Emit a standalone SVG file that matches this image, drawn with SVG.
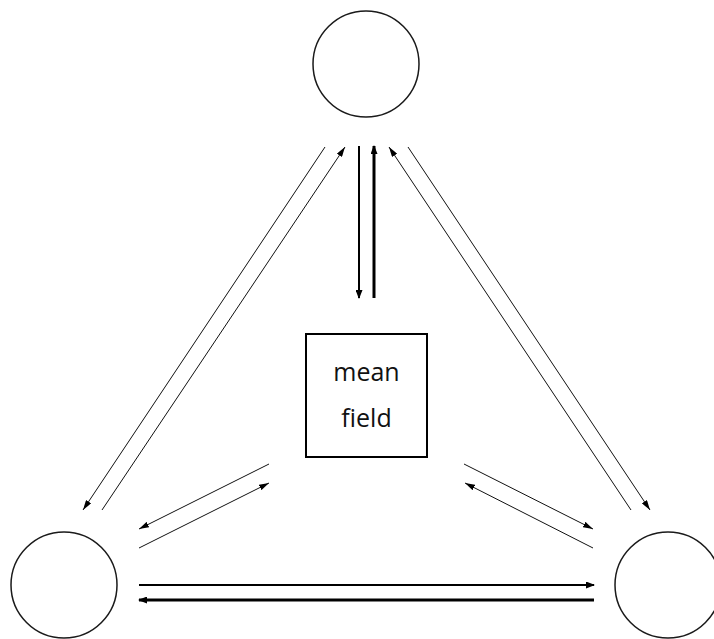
<svg xmlns="http://www.w3.org/2000/svg" width="714" height="639" viewBox="0 0 714 639">
<style>
.node{fill:none;stroke:#1a1a1a;stroke-width:1.5}
.box{fill:none;stroke:#000;stroke-width:2}
.thin{stroke:#111;stroke-width:1;fill:none}
.med{stroke:#000;stroke-width:2;fill:none}
.thick{stroke:#000;stroke-width:3;fill:none}
.lbl{font-family:"Open Sans","Liberation Sans",sans-serif;font-size:25px;fill:#111;text-anchor:middle}
</style>
<defs>
<marker id="ah" viewBox="0 0 10 6" refX="10" refY="3" markerWidth="10" markerHeight="6" markerUnits="userSpaceOnUse" orient="auto">
<path d="M0,0 L10,3 L0,6 z" fill="#000"/>
</marker>
<marker id="ahs" viewBox="0 0 9 7" refX="8" refY="3.5" markerWidth="9" markerHeight="7" markerUnits="userSpaceOnUse" orient="auto">
<path d="M0,0 L9,3.5 L0,7 z" fill="#000"/>
</marker>
</defs>
<g id="node-top"><circle class="node" cx="366" cy="64" r="53"/></g>
<g id="node-left"><circle class="node" cx="64" cy="585" r="53"/></g>
<g id="node-right"><circle class="node" cx="668" cy="585" r="53"/></g>
<g id="node-meanfield">
<rect class="box" x="306" y="334" width="121" height="123"/>
<text class="lbl" x="366.5" y="381">mean</text>
<text class="lbl" x="366.5" y="427">field</text>
</g>
<g id="connectors">
<line class="thin" x1="325" y1="147" x2="83" y2="510" marker-end="url(#ah)"/>
<line class="thin" x1="102" y1="510" x2="345" y2="147" marker-end="url(#ah)"/>
<line class="thin" x1="269" y1="464" x2="139" y2="529" marker-end="url(#ah)"/>
<line class="thin" x1="139" y1="548" x2="269" y2="483" marker-end="url(#ah)"/>
<line class="thin" x1="631" y1="510" x2="389" y2="147" marker-end="url(#ah)"/>
<line class="thin" x1="408" y1="147" x2="650" y2="510" marker-end="url(#ah)"/>
<line class="thin" x1="464" y1="464" x2="593" y2="529" marker-end="url(#ah)"/>
<line class="thin" x1="593" y1="548" x2="465" y2="483" marker-end="url(#ah)"/>
<line class="med" x1="359" y1="146" x2="359" y2="298" marker-end="url(#ahs)"/>
<line class="thick" x1="374" y1="298" x2="374" y2="146" marker-end="url(#ahs)"/>
<line class="med" x1="139" y1="585" x2="594" y2="585" marker-end="url(#ahs)"/>
<line class="thick" x1="594" y1="600" x2="139" y2="600" marker-end="url(#ahs)"/>
</g>
</svg>
